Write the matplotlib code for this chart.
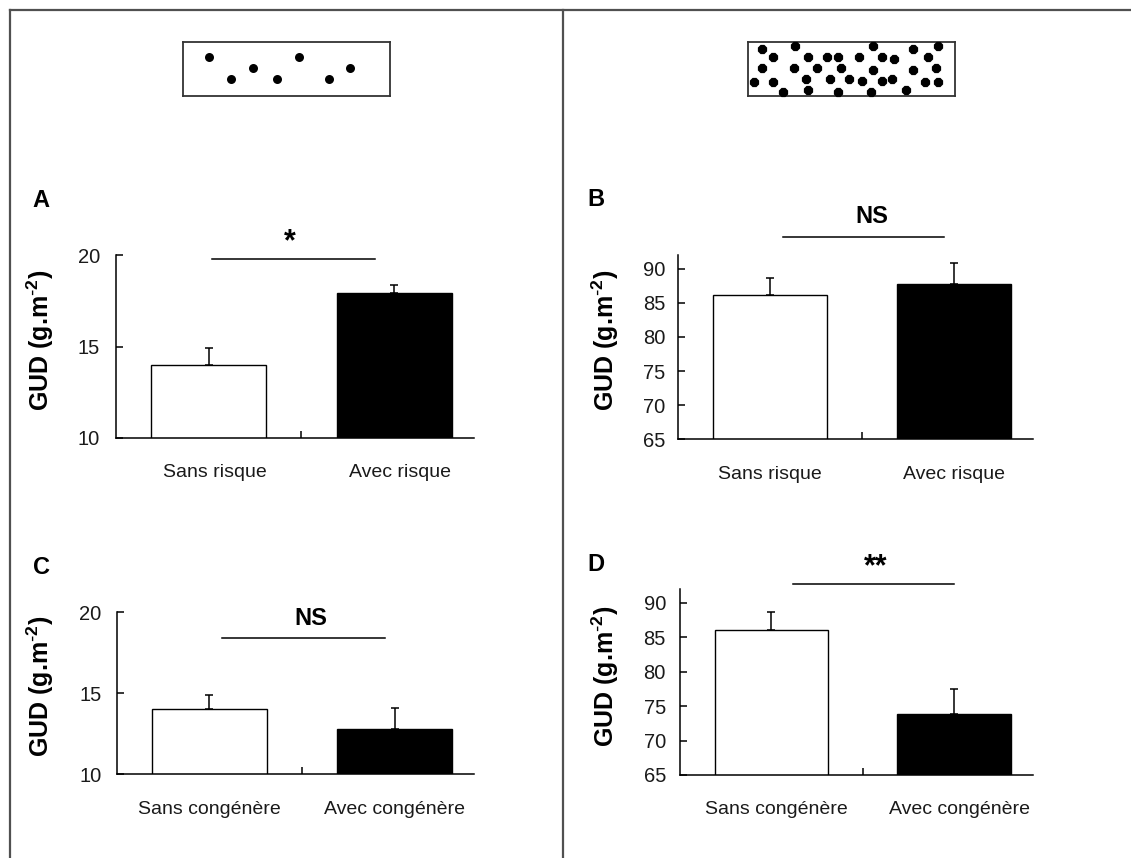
import matplotlib
matplotlib.use("Agg")
import matplotlib.pyplot as plt
from matplotlib.lines import Line2D
from matplotlib.transforms import Affine2D, ScaledTranslation, blended_transform_factory

plt.rcParams['font.family'] = ['Liberation Sans', 'DejaVu Sans']
plt.rcParams['mathtext.default'] = 'regular'

W, H, DPI = 1131, 858, 100

# ---- data -------------------------------------------------------------
risk_labels = ['Sans risque', 'Avec risque']
cong_labels = ['Sans congénère', 'Avec congénère']

gud_A = [14.0, 17.95]
sem_A = [0.9, 0.42]
gud_B = [86.1, 87.7]
sem_B = [2.55, 3.1]
gud_C = [14.0, 12.8]
sem_C = [0.9, 1.3]
gud_D = [86.0, 73.9]
sem_D = [2.7, 3.6]

sig_A, sig_B, sig_C, sig_D = '*', 'NS', 'NS', '**'

yticks_low = [10, 15, 20]
yticks_high = [65, 70, 75, 80, 85, 90]

# seed layouts of the two patch types (percent of the patch width / height)
sparse_x = [12.6, 23.1, 33.6, 45.2, 55.8, 70.5, 80.6]
sparse_y = [72, 31, 52, 31, 72, 31, 52]
dense_x = [6.5, 22.6, 11.9, 29.0, 38.2, 43.4, 53.6, 6.5, 22.3, 33.1, 44.7, 2.8,
           11.9, 27.7, 39.5, 48.7, 16.9, 29.0, 43.5, 60.3, 64.5, 70.5, 60.3, 55.0,
           64.5, 69.5, 59.2, 76.4, 79.8, 91.9, 86.8, 90.8, 79.8, 85.5, 91.9]
dense_y = [87.5, 92.2, 72.6, 72.6, 72.6, 72.6, 72.6, 52.1, 52.1, 51.6, 51.6, 26.6,
           26.6, 31.7, 31.7, 31.7, 6.9, 11.2, 6.9, 92.2, 72.6, 68.0, 47.9, 27.6,
           27.6, 31.7, 6.9, 12.1, 87.5, 92.2, 72.6, 52.1, 47.5, 27.0, 27.0]

# ---- figure -----------------------------------------------------------
fig = plt.figure(figsize=(W / DPI, H / DPI), dpi=DPI, facecolor='white')
px = Affine2D().scale(1 / W, -1 / H).translate(0, 1) + fig.transFigure


def fig_rect(x0, y0, x1, y1):
    return [x0 / W, 1 - y1 / H, (x1 - x0) / W, (y1 - y0) / H]


def panel(rect, values, errs, cats, ylim, yticks, ypad, letter, letter_xy,
          ylabel_xy, sig, sig_xy, sig_size, sig_line, label_shift):
    ax = fig.add_axes(fig_rect(*rect))
    pos = [0.5, 1.5]
    ax.bar(pos, values, width=0.62, color=['white', 'black'],
           edgecolor='black', linewidth=1.0, zorder=2)
    ax.errorbar(pos, values, yerr=[[0, 0], errs], fmt='none', ecolor='black',
                elinewidth=1.1, capsize=2.9, capthick=1.1, zorder=3)
    ax.set_xlim(0, 1.93)
    ax.set_ylim(*ylim)
    ax.set_yticks(yticks)
    ax.set_xticks([1])
    ax.set_xticklabels([])
    for s in ('top', 'right'):
        ax.spines[s].set_visible(False)
    for s in ('left', 'bottom'):
        ax.spines[s].set_linewidth(1.1)
        ax.spines[s].set_zorder(4)
    ax.tick_params(axis='x', direction='in', length=5, width=1.1)
    ax.tick_params(axis='y', direction='in', length=5, width=1.1,
                   labelsize=14.5, pad=ypad, labelcolor='#1a1a1a')
    ax.patch.set_visible(False)

    trans = blended_transform_factory(ax.transData, ax.transAxes) + \
        ScaledTranslation(label_shift / DPI, -39.5 / DPI, fig.dpi_scale_trans)
    for p, c in zip(pos, cats):
        ax.text(p, 0, c, transform=trans, ha='center', va='baseline',
                fontsize=14, color='#1a1a1a')

    fig.text(*letter_xy, letter, transform=px, ha='left', va='baseline',
             fontsize=17, fontweight='bold')
    fig.text(*ylabel_xy, r'GUD (g.m$^{\text{-}2}$)', transform=px, rotation=90,
             ha='center', va='center', fontsize=18, fontweight='bold')
    x0, x1, yl = sig_line
    fig.add_artist(Line2D([x0, x1], [yl, yl], transform=px, color='black', lw=1.1))
    fig.text(*sig_xy, sig, transform=px, ha='center', va='baseline',
             fontsize=sig_size, fontweight='bold')
    return ax


panel((116, 255.3, 474, 437.7), gud_A, sem_A, risk_labels, (10, 20), yticks_low,
      11.5, 'A', (32, 206.7), (40.7, 340.5), sig_A, (290, 250), 22,
      (211.7, 374.7, 259), 6)
panel((678.3, 255, 1033.3, 439.3), gud_B, sem_B, risk_labels, (65, 92), yticks_high,
      9.4, 'B', (587.7, 206), (605.7, 340), sig_B, (871.5, 223.3), 17,
      (783.3, 944, 237.3), 0)
panel((116.7, 612.3, 474.3, 774), gud_C, sem_C, cong_labels, (10, 20), yticks_low,
      10.8, 'C', (33.3, 574.3), (40.7, 686.7), sig_C, (311, 625), 17,
      (222, 385, 638.3), 0)
panel((680, 589, 1032.7, 775), gud_D, sem_D, cong_labels, (65, 92), yticks_high,
      10.1, 'D', (587.7, 570.7), (605.5, 676), sig_D, (876, 575), 22,
      (792.7, 954, 583.7), 5)


# ---- seed patches -----------------------------------------------------
def patch(rect, xs, ys, marker, size):
    ax = fig.add_axes(fig_rect(*rect))
    ax.set_xlim(0, 100)
    ax.set_ylim(0, 100)
    ax.set_xticks([])
    ax.set_yticks([])
    for s in ax.spines.values():
        s.set_linewidth(1.3)
        s.set_color('#333333')
    ax.scatter(xs, ys, s=size, marker=marker, c='black', linewidths=0,
               clip_on=False, zorder=3)


patch((183.3, 42.3, 390, 96), sparse_x, sparse_y, 'o', 42)
patch((748.3, 42.3, 955, 96), dense_x, dense_y, '8', 52)

# ---- frame lines ------------------------------------------------------
frame = dict(transform=px, color='#505050', lw=1.6)
fig.add_artist(Line2D([9.5, W], [9.5, 9.5], **frame))
fig.add_artist(Line2D([9.5, 9.5], [9.5, H], **frame))
fig.add_artist(Line2D([563.3, 563.3], [9.5, H], **frame))

fig.savefig('out.png', dpi=DPI, facecolor='white')
